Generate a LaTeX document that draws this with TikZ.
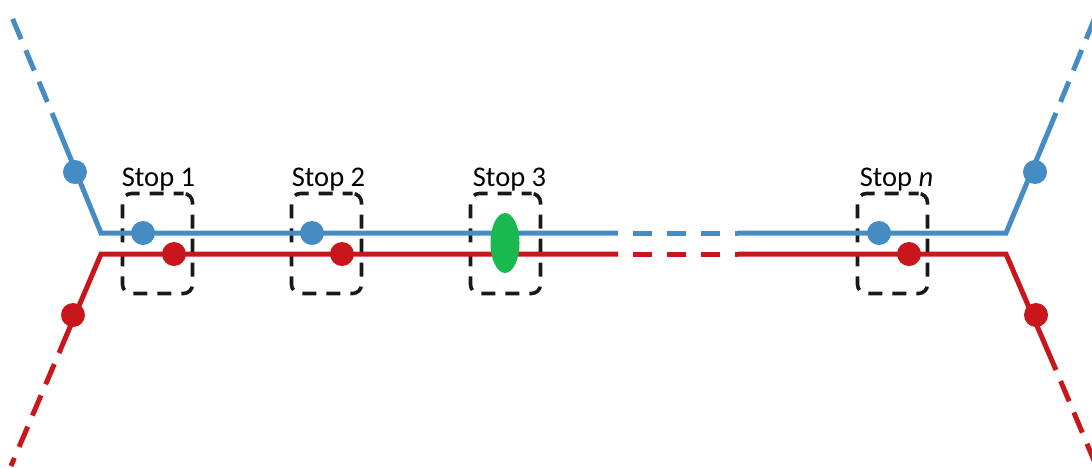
\documentclass[tikz,border=0pt]{standalone}
\usepackage{fontspec}
\setmainfont{Carlito}
\usetikzlibrary{shapes.geometric}
\definecolor{lblue}{RGB}{70,140,196}
\definecolor{lred}{RGB}{200,22,28}
\definecolor{lgreen}{RGB}{25,185,80}
\begin{document}
\begin{tikzpicture}[x=1pt,y=-1pt,
  bline/.style={draw=lblue,line width=5pt},
  rline/.style={draw=lred,line width=5pt},
  outdash/.style={dash pattern=on 22pt off 12pt,dash phase=22pt},
  middash/.style={dash pattern=on 19pt off 15pt,dash phase=19pt},
  bdot/.style={circle,fill=lblue,minimum size=24pt,inner sep=0pt},
  rdot/.style={circle,fill=lred,minimum size=24pt,inner sep=0pt},
  stopbox/.style={draw=black!90,line width=3.6pt,rounded corners=9pt,dash pattern=on 14pt off 10pt,dash phase=4pt,minimum width=70pt,minimum height=100pt,inner sep=0pt},
  lbl/.style={font=\fontsize{28.5}{32}\selectfont,anchor=base,inner sep=0pt}]
\useasboundingbox (0,0) rectangle (1092,467);
% coordinates
\coordinate (bl0) at (11,15);
\coordinate (bl1) at (52,113);
\coordinate (blc) at (101,233);
\coordinate (bm0) at (618,233);
\coordinate (bm1) at (738,233);
\coordinate (brc) at (1006,233);
\coordinate (br1) at (1056,113);
\coordinate (br0) at (1098,10);
\coordinate (rl0) at (11,466);
\coordinate (rl1) at (59,353);
\coordinate (rlc) at (101,254);
\coordinate (rm0) at (618,254);
\coordinate (rm1) at (738,254);
\coordinate (rrc) at (1006,254);
\coordinate (rr1) at (1056,370);
\coordinate (rr0) at (1098,470);
% boxes (behind)
\node[stopbox] (s1) at (157.5,243.5) {};
\node[stopbox] (s2) at (326.5,243.5) {};
\node[stopbox] (s3) at (505.5,243.5) {};
\node[stopbox] (sn) at (892.5,243.5) {};
% lines
\draw[bline,line join=miter] (bl1) -- (blc) -- (bm0);
\draw[bline,outdash] (bl1) -- (bl0);
\draw[bline,middash] (bm0) -- (bm1);
\draw[bline,line join=miter] (bm1) -- (brc) -- (br1);
\draw[bline,outdash] (br1) -- (br0);
\draw[rline,line join=miter] (rl1) -- (rlc) -- (rm0);
\draw[rline,outdash] (rl1) -- (rl0);
\draw[rline,middash] (rm0) -- (rm1);
\draw[rline,line join=miter] (rm1) -- (rrc) -- (rr1);
\draw[rline,outdash] (rr1) -- (rr0);
% dots
\node[bdot] (bd0) at (75,172) {};
\node[rdot] (rd0) at (73,315) {};
\node[bdot] (bd1) at (143,233) {};
\node[rdot] (rd1) at (174,254) {};
\node[bdot] (bd2) at (312,233) {};
\node[rdot] (rd2) at (342,254) {};
\node[bdot] (bdn) at (879,233) {};
\node[rdot] (rdn) at (909,254) {};
\node[bdot] (bd9) at (1035,172) {};
\node[rdot] (rd9) at (1036,315) {};
\node[ellipse,fill=lgreen,minimum width=29pt,minimum height=60pt,inner sep=0pt] (g3) at (505,243) {};
% labels
\node[lbl] (l1) at ([yshift=5pt,xshift=1pt]s1.north) {Stop 1};
\node[lbl] (l2) at ([yshift=5pt,xshift=2pt]s2.north) {Stop 2};
\node[lbl] (l3) at ([yshift=5pt,xshift=4pt]s3.north) {Stop 3};
\node[lbl] (ln) at ([yshift=5pt,xshift=4pt]sn.north) {Stop \textit{n}};
\end{tikzpicture}
\end{document}
